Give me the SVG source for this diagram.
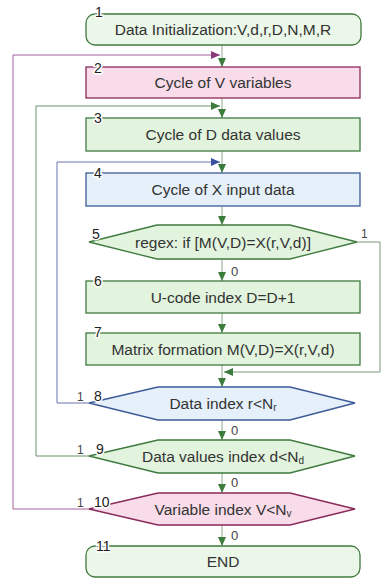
<svg xmlns="http://www.w3.org/2000/svg" width="382" height="578" viewBox="0 0 382 578">
<defs>
<marker id="ag" markerUnits="userSpaceOnUse" markerWidth="9" markerHeight="8" refX="9" refY="4" orient="auto"><path d="M0,0 L9,4 L0,8 z" fill="#3b7b3b"/></marker>
<marker id="ap" markerUnits="userSpaceOnUse" markerWidth="9" markerHeight="8" refX="9" refY="4" orient="auto"><path d="M0,0 L9,4 L0,8 z" fill="#8a3a7a"/></marker>
<marker id="ab" markerUnits="userSpaceOnUse" markerWidth="9" markerHeight="8" refX="9" refY="4" orient="auto"><path d="M0,0 L9,4 L0,8 z" fill="#3a52a0"/></marker>
</defs>
<style>
.t{font-family:"Liberation Sans",Arial,sans-serif;font-size:15.5px;fill:#333;text-anchor:middle}
.n{font-family:"Liberation Sans",Arial,sans-serif;font-size:14px;fill:#222;stroke:#fff;stroke-width:3px;paint-order:stroke}
.b{font-family:"Liberation Sans",Arial,sans-serif;font-size:12px;fill:#444}
.z{font-family:"Liberation Sans",Arial,sans-serif;font-size:13px;fill:#444}
.g{fill:#e2f3de;stroke:#3f7a3f;stroke-width:1.3}
.g0{fill:#ebf7e8;stroke:#3f7a3f;stroke-width:1.3}
.p{fill:#f9dce9;stroke:#8a2a5a;stroke-width:1.3}
.bl{fill:#e5f0fa;stroke:#3d5a98;stroke-width:1.3}
.c{fill:none;stroke:#8aa88a;stroke-width:1}
.cg{fill:none;stroke:#6a946a;stroke-width:1}
.cp{fill:none;stroke:#a0609a;stroke-width:1}
.cb{fill:none;stroke:#6a74b0;stroke-width:1}
.cr{fill:none;stroke:#7a9a7a;stroke-width:1}
</style>
<g id="connectors">
<line class="c" x1="222" y1="45" x2="222" y2="67" marker-end="url(#ag)"/>
<line class="c" x1="222" y1="98" x2="222" y2="118" marker-end="url(#ag)"/>
<line class="c" x1="222" y1="151" x2="222" y2="173" marker-end="url(#ag)"/>
<line class="c" x1="222" y1="206" x2="222" y2="225" marker-end="url(#ag)"/>
<line class="c" x1="222" y1="259" x2="222" y2="281" marker-end="url(#ag)"/>
<line class="c" x1="222" y1="313" x2="222" y2="333" marker-end="url(#ag)"/>
<line class="c" x1="222" y1="365" x2="222" y2="387" marker-end="url(#ag)"/>
<line class="c" x1="222" y1="420" x2="222" y2="440" marker-end="url(#ag)"/>
<line class="c" x1="222" y1="473" x2="222" y2="493" marker-end="url(#ag)"/>
<line class="c" x1="222" y1="525" x2="222" y2="546" marker-end="url(#ag)"/>
<polyline class="cp" points="89,509 13,509 13,55 220,55" marker-end="url(#ap)"/>
<polyline class="cg" points="89,456 36,456 36,106 220,106" marker-end="url(#ag)"/>
<polyline class="cb" points="89,403 57,403 57,162 220,162" marker-end="url(#ab)"/>
<polyline class="cr" points="357,242 380,242 380,372 224,372" marker-end="url(#ag)"/>
<text class="b" x="361" y="238">1</text>
<text class="z" x="231" y="276">0</text>
<text class="b" x="77" y="401">1</text>
<text class="z" x="231" y="435">0</text>
<text class="b" x="77" y="454">1</text>
<text class="z" x="231" y="487">0</text>
<text class="b" x="77" y="507">1</text>
<text class="z" x="231" y="540">0</text>
</g>
<g id="node1"><rect class="g0" x="86" y="14" width="275" height="31" rx="9"/><text class="n" x="95" y="17">1</text><text class="t" x="223" y="35">Data Initialization:V,d,r,D,N,M,R</text></g>
<g id="node2"><rect class="p" x="86" y="67" width="274" height="31"/><text class="n" x="94" y="73">2</text><text class="t" x="223" y="88">Cycle of V variables</text></g>
<g id="node3"><rect class="g" x="86" y="118" width="274" height="33"/><text class="n" x="94" y="123">3</text><text class="t" x="223" y="140">Cycle of D data values</text></g>
<g id="node4"><rect class="bl" x="86" y="173" width="274" height="33"/><text class="n" x="94" y="178">4</text><text class="t" x="223" y="195">Cycle of X input data</text></g>
<g id="node5"><polygon class="g" points="89,242 157,225 290,225 357,242 290,259 157,259"/><text class="n" x="92" y="239">5</text><text class="t" x="223" y="247.5">regex: if [M(V,D)=X(r,V,d)]</text></g>
<g id="node6"><rect class="g" x="86" y="281" width="274" height="32"/><text class="n" x="94" y="286">6</text><text class="t" x="223" y="302.5">U-code index D=D+1</text></g>
<g id="node7"><rect class="g" x="86" y="333" width="274" height="32"/><text class="n" x="94" y="337">7</text><text class="t" x="223" y="354.5">Matrix formation M(V,D)=X(r,V,d)</text></g>
<g id="node8"><polygon class="bl" points="89,403 158,387 290,387 355,403 290,420 158,420"/><text class="n" x="94" y="401">8</text><text class="t" x="223" y="409">Data index r&lt;N<tspan font-size="10" dy="2">r</tspan></text></g>
<g id="node9"><polygon class="g" points="89,456 158,440 290,440 355,456 290,473 158,473"/><text class="n" x="96" y="454">9</text><text class="t" x="223" y="462">Data values index d&lt;N<tspan font-size="10" dy="2">d</tspan></text></g>
<g id="node10"><polygon class="p" points="89,509 158,493 290,493 355,509 290,525 158,525"/><text class="n" x="94" y="507">10</text><text class="t" x="223" y="514.5">Variable index V&lt;N<tspan font-size="10" dy="2">v</tspan></text></g>
<g id="node11"><rect class="g0" x="86" y="546" width="274" height="31" rx="9"/><text class="n" x="96" y="551">11</text><text class="t" x="223" y="567">END</text></g>
</svg>
